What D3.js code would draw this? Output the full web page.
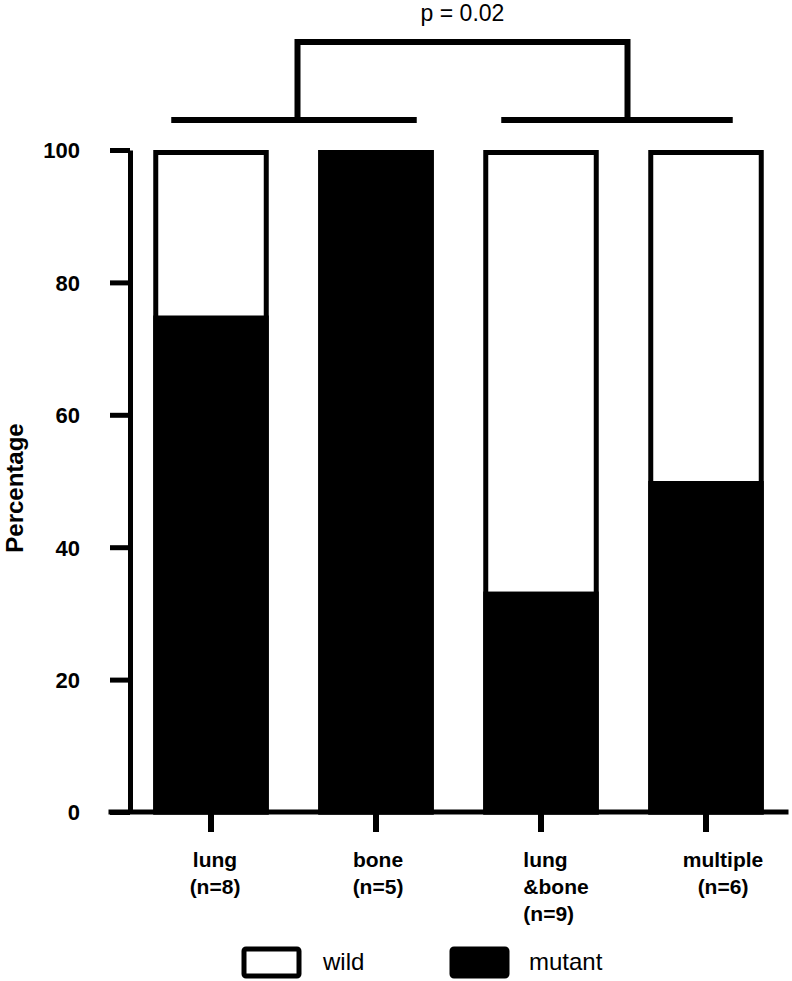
<!DOCTYPE html>
<html>
<head>
<meta charset="utf-8">
<script src="https://cdn.jsdelivr.net/npm/d3@7"></script>
<style>
  body { margin: 0; background: #fff; }
  text { font-family: "Liberation Sans", Arial, Helvetica, sans-serif; fill: #000; }
</style>
</head>
<body>
<svg id="chart" width="792" height="981"></svg>
<script>

// data
var categories = ["lung", "bone", "lung&bone", "multiple"];
var mutantPct = [75, 100, 33.3, 50];
var catLabels = [["lung", "(n=8)"], ["bone", "(n=5)"], ["lung", "&bone", "(n=9)"], ["multiple", "(n=6)"]];
var yTicks = [0, 20, 40, 60, 80, 100];
var bracketGroups = [["lung", "bone"], ["lung&bone", "multiple"]];
var pText = "p = 0.02";
var legendItems = ["wild", "mutant"];

var svg = d3.select("#chart");

var x = d3.scaleBand()
    .domain(categories)
    .range([128.5, 788.5])
    .paddingInner(0.3)
    .paddingOuter(0.15);

var y = d3.scaleLinear()
    .domain([0, 100])
    .range([812, 150]);

var bw = x.bandwidth(),
    lineW = 5;

/** bars: white full frame + black mutant part **/
var bars = svg.append("g").selectAll("g")
    .data(categories.map(function(c, i){ return {cat: c, mut: mutantPct[i]}; }))
    .enter().append("g");

bars.append("rect")
    .attr("x", function(d){ return x(d.cat) + lineW/2; })
    .attr("y", y(100) + lineW/2)
    .attr("width", bw - lineW)
    .attr("height", y(0) - y(100) - lineW/2)
    .attr("fill", "#fff")
    .attr("stroke", "#000")
    .attr("stroke-width", lineW);

bars.append("rect")
    .attr("x", function(d){ return x(d.cat) + lineW/2; })
    .attr("y", function(d){ return y(d.mut) + lineW/2; })
    .attr("width", bw - lineW)
    .attr("height", function(d){ return y(0) - y(d.mut) - lineW/2; })
    .attr("fill", "#000")
    .attr("stroke", "#000")
    .attr("stroke-width", lineW);

/** y axis **/
var yAxis = svg.append("g")
    .attr("transform", "translate(130,0)")
    .call(d3.axisLeft(y).tickValues(yTicks).tickSize(20).tickSizeOuter(0).tickPadding(30));

yAxis.select(".domain").attr("stroke-width", lineW);
yAxis.selectAll(".tick line").attr("stroke-width", lineW);
yAxis.selectAll(".tick text")
    .attr("font-family", "Liberation Sans, Arial, sans-serif")
    .attr("font-size", 22)
    .attr("font-weight", "bold")
    .attr("dy", "0.36em");

/** x axis **/
var xAxis = svg.append("g")
    .attr("transform", "translate(0," + y(0) + ")")
    .call(d3.axisBottom(x).tickSize(20).tickSizeOuter(0).tickFormat(""));

xAxis.select(".domain").remove();
xAxis.selectAll(".tick line").attr("stroke-width", lineW + 1);

xAxis.append("line")
    .attr("x1", x.range()[0] - 20)
    .attr("x2", x.range()[1])
    .attr("y1", 0)
    .attr("y2", 0)
    .attr("stroke", "#000")
    .attr("stroke-width", lineW);

// category labels (multi line)
var labelShift = {"lung": 4, "bone": 2, "lung&bone": 15, "multiple": 17};

var labs = svg.append("g").selectAll("text")
    .data(categories.map(function(c, i){ return {cat: c, lines: catLabels[i]}; }))
    .enter().append("text")
    .attr("font-size", 21)
    .attr("font-weight", "bold")
    .attr("text-anchor", "middle")
    .attr("transform", function(d){
        return "translate(" + (x(d.cat) + bw/2 + labelShift[d.cat]) + "," + (y(0) + 55) + ")";
    });

labs.selectAll("tspan")
    .data(function(d){ return d.lines; })
    .enter().append("tspan")
    .attr("x", 0)
    .attr("y", function(d, i){ return i * 27; })
    .text(function(d){ return d; });

// the 3-line label is left aligned in the figure
labs.filter(function(d){ return d.lines.length > 2; })
    .each(function(){
        var t = d3.select(this);
        var w = d3.max(t.selectAll("tspan").nodes(), function(n){ return n.getComputedTextLength(); });
        t.attr("text-anchor", "start")
         .selectAll("tspan").attr("x", -w/2);
    });

/** y label **/
svg.append("text")
    .attr("transform", "translate(23," + ((y(0) + y(100))/2 + 7) + ") rotate(-90)")
    .attr("text-anchor", "middle")
    .attr("font-size", 24)
    .attr("font-weight", "bold")
    .text("Percentage");

/** significance bracket **/
var lowY = y(100) - 30,
    topY = y(100) - 108;

var drops = bracketGroups.map(function(g){
    var a = x(g[0]), b = x(g[1]);
    return {
        x1: a + 18,
        x2: b + bw - (g[1] === "multiple" ? 31 : 17),
        mid: (a + b + bw)/2 + 4
    };
});

var br = svg.append("g")
    .attr("stroke", "#000")
    .attr("stroke-width", 6)
    .attr("fill", "none");

br.selectAll("line.low")
    .data(drops)
    .enter().append("line")
    .attr("class", "low")
    .attr("x1", function(d){ return d.x1; })
    .attr("x2", function(d){ return d.x2; })
    .attr("y1", lowY)
    .attr("y2", lowY);

br.append("path")
    .attr("d", "M" + drops[0].mid + "," + lowY +
               "V" + topY +
               "H" + drops[1].mid +
               "V" + lowY);

svg.append("text")
    .attr("x", (drops[0].mid + drops[1].mid)/2)
    .attr("y", 21)
    .attr("text-anchor", "middle")
    .attr("font-size", 23)
    .text(pText);

/** legend **/
var leg = svg.append("g").selectAll("g")
    .data(legendItems)
    .enter().append("g")
    .attr("transform", function(d, i){ return "translate(" + (244 + i*208) + ",949)"; });

leg.append("rect")
    .attr("width", 55)
    .attr("height", 27)
    .attr("rx", 2)
    .attr("fill", function(d, i){ return i === 0 ? "#fff" : "#000"; })
    .attr("stroke", "#000")
    .attr("stroke-width", 5);

leg.append("text")
    .attr("x", function(d, i){ return i === 0 ? 79 : 77; })
    .attr("y", 21)
    .attr("font-size", 24)
    .text(function(d){ return d; });

</script>
</body>
</html>
